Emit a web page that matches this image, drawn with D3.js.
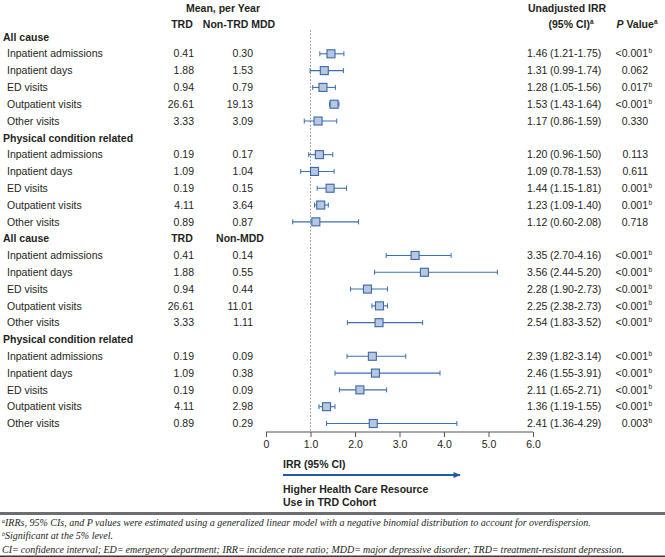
<!DOCTYPE html>
<html>
<head>
<meta charset="utf-8">
<script src="https://cdn.jsdelivr.net/npm/d3@7"></script>
<style>
  body { margin: 0; background: #fff; }
  svg { display: block; font-family: "Liberation Sans", Arial, sans-serif; }
  .lbl { font-size: 10.5px; fill: #231f20; }
  .hdr { font-size: 10.5px; font-weight: bold; fill: #231f20; }
  .sup { font-size: 6.5px; fill: #231f20; }
  .foot { font-family: "Liberation Serif", serif; font-style: italic; font-size: 10px; fill: #231f20; }
</style>
</head>
<body>
<svg id="chart"></svg>
<script>
var W = 665, H = 557;

// section headers and measures
var groups = ["All cause", "Physical condition related", "All cause", "Physical condition related"];
var measures = ["Inpatient admissions", "Inpatient days", "ED visits", "Outpatient visits", "Other visits"];

// mean per year (TRD vs comparator), as printed
var trdMean = ["0.41", "1.88", "0.94", "26.61", "3.33", "0.19", "1.09", "0.19", "4.11", "0.89",
               "0.41", "1.88", "0.94", "26.61", "3.33", "0.19", "1.09", "0.19", "4.11", "0.89"];
var compMean = ["0.30", "1.53", "0.79", "19.13", "3.09", "0.17", "1.04", "0.15", "3.64", "0.87",
                "0.14", "0.55", "0.44", "11.01", "1.11", "0.09", "0.38", "0.09", "2.98", "0.29"];

// printed IRR text
var irrText = ["1.46", "1.31", "1.28", "1.53", "1.17", "1.20", "1.09", "1.44", "1.23", "1.12",
               "3.35", "3.56", "2.28", "2.25", "2.54", "2.39", "2.46", "2.11", "1.36", "2.41"];
var ciText = ["(1.21-1.75)", "(0.99-1.74)", "(1.05-1.56)", "(1.43-1.64)", "(0.86-1.59)",
              "(0.96-1.50)", "(0.78-1.53)", "(1.15-1.81)", "(1.09-1.40)", "(0.60-2.08)",
              "(2.70-4.16)", "(2.44-5.20)", "(1.90-2.73)", "(2.38-2.73)", "(1.83-3.52)",
              "(1.82-3.14)", "(1.55-3.91)", "(1.65-2.71)", "(1.19-1.55)", "(1.36-4.29)"];

// plotted markers (as drawn in the figure)
var pointEst = [1.46, 1.31, 1.28, 1.53, 1.17, 1.20, 1.09, 1.44, 1.23, 1.12,
                3.35, 3.56, 2.28, 2.55, 2.54, 2.39, 2.46, 2.11, 1.36, 2.41];
var ciLow = [1.21, 0.99, 1.05, 1.43, 0.86, 0.96, 0.78, 1.15, 1.09, 0.60,
             2.70, 2.44, 1.90, 2.38, 1.83, 1.82, 1.55, 1.65, 1.19, 1.36];
var ciHigh = [1.75, 1.74, 1.56, 1.64, 1.59, 1.50, 1.53, 1.81, 1.40, 2.08,
              4.16, 5.20, 2.73, 2.73, 3.52, 3.14, 3.91, 2.71, 1.55, 4.29];

var pValue = ["<0.001", "0.062", "0.017", "<0.001", "0.330", "0.113", "0.611", "0.001", "0.001", "0.718",
              "<0.001", "<0.001", "<0.001", "<0.001", "<0.001", "<0.001", "<0.001", "<0.001", "<0.001", "0.003"];
var significant = [1, 0, 1, 1, 0, 0, 0, 1, 1, 0, 1, 1, 1, 1, 1, 1, 1, 1, 1, 1];

var xTicks = [0, 1, 2, 3, 4, 5, 6];

var footnotes = [
  ["a", "IRRs, 95% CIs, and P values were estimated using a generalized linear model with a negative binomial distribution to account for overdispersion."],
  ["b", "Significant at the 5% level."],
  ["", "CI=\u2009confidence interval; ED=\u2009emergency department; IRR=\u2009incidence rate ratio; MDD=\u2009major depressive disorder; TRD=\u2009treatment-resistant depression."]
];

// build row list: group header then its 5 measures
var rows = [];
var k = 0;
groups.forEach(function(g, gi) {
  rows.push({type: "group", label: g, block: gi});
  measures.forEach(function(m) {
    rows.push({type: "item", label: m, idx: k});
    k++;
  });
});

var rowY = d3.scaleLinear().domain([0, rows.length - 1]).range([37, 423.5]);
var x = d3.scaleLinear().domain([0, 6]).range([266, 533]);

var svg = d3.select("#chart").attr("width", W).attr("height", H);

// column headers
var hdr = svg.append("g").attr("class", "hdr");
hdr.append("text").attr("x", 223).attr("y", 12).attr("text-anchor", "middle").text("Mean, per Year");
hdr.append("text").attr("x", 182).attr("y", 28).attr("text-anchor", "middle").text("TRD");
hdr.append("text").attr("x", 239).attr("y", 28).attr("text-anchor", "middle").text("Non-TRD MDD");
hdr.append("text").attr("x", 567).attr("y", 12).attr("text-anchor", "middle").text("Unadjusted IRR");
var ciH = hdr.append("text").attr("x", 571).attr("y", 28).attr("text-anchor", "middle");
ciH.append("tspan").text("(95% CI)");
ciH.append("tspan").attr("font-size", 6.5).attr("dy", -4).text("a");
var pH = hdr.append("text").attr("x", 637).attr("y", 28).attr("text-anchor", "middle");
pH.append("tspan").attr("font-style", "italic").text("P");
pH.append("tspan").text(" Value");
pH.append("tspan").attr("font-size", 6.5).attr("dy", -4).text("a");

// reference line at IRR = 1
svg.append("line")
    .attr("x1", x(1)).attr("x2", x(1))
    .attr("y1", 30).attr("y2", 432)
    .attr("stroke", "#8a8a8a")
    .attr("stroke-width", 0.8)
    .attr("stroke-dasharray", "2,1.5");

var row = svg.selectAll(".row")
    .data(rows)
  .enter().append("g")
    .attr("class", "row")
    .attr("transform", function(d, i) { return "translate(0," + rowY(i) + ")"; });

row.append("text")
    .attr("class", function(d) { return d.type == "group" ? "hdr" : "lbl"; })
    .attr("x", function(d) { return d.type == "group" ? 3 : 7; })
    .attr("dy", "0.35em")
    .text(function(d) { return d.label; });

// second comparison header sits on the 2nd "All cause" row
row.filter(function(d) { return d.type == "group" && d.block == 2; })
  .call(function(g) {
    g.append("text").attr("class", "hdr").attr("x", 182).attr("dy", "0.35em")
      .attr("text-anchor", "middle").text("TRD");
    g.append("text").attr("class", "hdr").attr("x", 240).attr("dy", "0.35em")
      .attr("text-anchor", "middle").text("Non-MDD");
  });

var items = row.filter(function(d) { return d.type == "item"; });

items.append("text").attr("class", "lbl")
    .attr("x", 194).attr("dy", "0.35em").attr("text-anchor", "end")
    .text(function(d) { return trdMean[d.idx]; });
items.append("text").attr("class", "lbl")
    .attr("x", 253).attr("dy", "0.35em").attr("text-anchor", "end")
    .text(function(d) { return compMean[d.idx]; });

items.append("text").attr("class", "lbl")
    .attr("x", 527).attr("dy", "0.35em")
    .text(function(d) { return irrText[d.idx]; });
items.append("text").attr("class", "lbl")
    .attr("x", 550).attr("dy", "0.35em")
    .text(function(d) { return ciText[d.idx]; });

items.append("text").attr("class", "lbl")
    .attr("x", 648).attr("dy", "0.35em").attr("text-anchor", "end")
    .text(function(d) { return pValue[d.idx]; });
items.filter(function(d) { return significant[d.idx]; })
  .append("text").attr("class", "sup")
    .attr("x", 648.5).attr("y", -0.5)
    .text("b");

// CI whiskers and markers
var ciColor = "#3b6fb3";
items.append("line")
    .attr("x1", function(d) { return x(ciLow[d.idx]); })
    .attr("x2", function(d) { return x(ciHigh[d.idx]); })
    .attr("stroke", ciColor).attr("stroke-width", 1.1);
items.append("line")
    .attr("x1", function(d) { return x(ciLow[d.idx]); })
    .attr("x2", function(d) { return x(ciLow[d.idx]); })
    .attr("y1", -2.5).attr("y2", 2.5)
    .attr("stroke", ciColor).attr("stroke-width", 1);
items.append("line")
    .attr("x1", function(d) { return x(ciHigh[d.idx]); })
    .attr("x2", function(d) { return x(ciHigh[d.idx]); })
    .attr("y1", -2.5).attr("y2", 2.5)
    .attr("stroke", ciColor).attr("stroke-width", 1);
items.append("rect")
    .attr("x", function(d) { return x(pointEst[d.idx]) - 4; })
    .attr("y", -4)
    .attr("width", 8).attr("height", 8)
    .attr("fill", "#b9c6e0")
    .attr("stroke", "#3a67a9")
    .attr("stroke-width", 1.1);

// x axis
var xAxis = d3.axisBottom(x)
    .tickValues(xTicks)
    .tickSize(5)
    .tickFormat(function(d) { return d == 0 ? "0" : d3.format(".1f")(d); });

var ax = svg.append("g")
    .attr("transform", "translate(0,432)")
    .call(xAxis);
ax.select(".domain").attr("stroke", "#555").attr("stroke-width", 1.2).attr("d", "M" + x(0) + ",0H" + x(6));
ax.selectAll(".tick line").attr("stroke", "#555").attr("stroke-width", 1);
ax.selectAll(".tick text")
    .attr("font-family", "Liberation Sans, Arial, sans-serif")
    .attr("font-size", 10.5)
    .attr("fill", "#231f20")
    .attr("y", 9);

// axis caption and arrow
svg.append("defs").append("marker")
    .attr("id", "arrow")
    .attr("viewBox", "0 0 10 10")
    .attr("refX", 9).attr("refY", 5)
    .attr("markerWidth", 5).attr("markerHeight", 4)
    .attr("orient", "auto")
  .append("path")
    .attr("d", "M0,1L10,5L0,9Z")
    .attr("fill", "#1f5ca8");

svg.append("text").attr("class", "hdr").attr("x", 283).attr("y", 468).text("IRR (95% CI)");
svg.append("line")
    .attr("x1", 283).attr("x2", 460)
    .attr("y1", 475).attr("y2", 475)
    .attr("stroke", "#1f5ca8").attr("stroke-width", 1.8)
    .attr("marker-end", "url(#arrow)");
svg.append("text").attr("class", "hdr").attr("x", 283).attr("y", 493).text("Higher Health Care Resource");
svg.append("text").attr("class", "hdr").attr("x", 283).attr("y", 506).text("Use in TRD Cohort");

// footnote rule and notes
svg.append("rect").attr("x", 0).attr("y", 512).attr("width", W).attr("height", 3).attr("fill", "#6d6e71");
svg.append("rect").attr("x", 0).attr("y", 555.5).attr("width", W).attr("height", 1.5).attr("fill", "#3a3a3c");

svg.selectAll(".foot")
    .data(footnotes)
  .enter().append("text")
    .attr("class", "foot")
    .attr("x", 2)
    .attr("y", function(d, i) { return 525.5 + i * 13.5; })
    .each(function(d) {
      var t = d3.select(this);
      if (d[0]) t.append("tspan").attr("font-size", 6).attr("dy", -3).text(d[0]);
      t.append("tspan").attr("dy", d[0] ? 3 : 0).text(d[1]);
    });
</script>
</body>
</html>
